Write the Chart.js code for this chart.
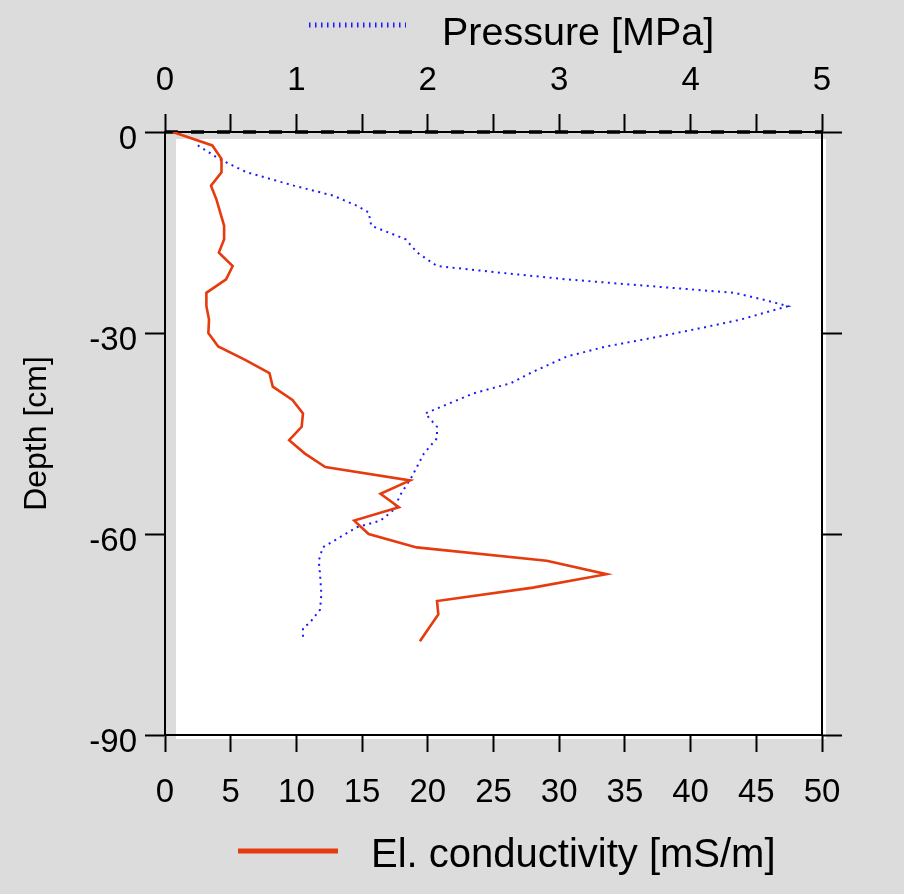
<!DOCTYPE html>
<html>
<head>
<meta charset="utf-8">
<script src="https://cdn.jsdelivr.net/npm/chart.js@4/dist/chart.umd.min.js"></script>
<style>
  html, body { margin: 0; padding: 0; background: #dcdcdc; }
  #wrap { width: 904px; height: 894px; position: relative; }
</style>
</head>
<body>
<div id="wrap"><canvas id="c" width="904" height="894"></canvas></div>
<script>
// ---- Data ----
const condDepths = [0, -2, -4, -6, -8, -10, -12, -14, -16, -18, -20, -22, -24, -26, -28, -30, -32, -34, -36, -38,
  -40, -42, -44, -46, -48, -50, -52, -54, -56, -58, -60, -62, -64, -66, -68, -70, -72, -74, -76];
const condValues = [0.6, 3.6, 4.3, 4.3, 3.5, 3.9, 4.2, 4.5, 4.5, 4.1, 5.15, 4.65, 3.15, 3.15, 3.35, 3.3, 4.05, 6.1, 7.95, 8.2,
  9.7, 10.5, 10.4, 9.45, 10.65, 12.2, 18.65, 16.4, 17.8, 14.4, 15.5, 19.15, 29.05, 33.6, 28.0, 20.7, 20.8, 20.1, 19.4];

const pressDepths = [-2, -4, -6, -8, -9.5, -11, -12, -14, -16, -18, -20, -21, -22, -23, -24, -25, -26, -28, -29.3, -30.8,
  -32, -33.5, -35.8, -37.5, -39, -42, -44, -45.7, -48, -51.4, -54.2, -56.4, -58, -59, -62, -64, -66, -69, -71.3, -73.3, -74, -76];
const pressValues = [0.25, 0.41, 0.62, 0.98, 1.28, 1.46, 1.55, 1.57, 1.83, 1.92, 2.07, 2.55, 3.06, 3.69, 4.33, 4.55, 4.74, 4.38, 4.07, 3.69,
  3.36, 3.06, 2.80, 2.63, 2.35, 1.98, 2.07, 2.07, 1.97, 1.88, 1.79, 1.74, 1.64, 1.46, 1.20, 1.17, 1.18, 1.19, 1.18, 1.10, 1.05, 1.05];

const depthTicks = [0, -30, -60, -90];
const condRange = [0, 50];
const pressRange = [0, 5];
const surfaceLine = [0, 50]; // depth 0 reference line across conductivity axis

const condLabel = 'El. conductivity [mS/m]';
const pressLabel = 'Pressure [MPa]';
const depthLabel = 'Depth [cm]';

// ---- Styles ----
const RED = '#e63b0e';
const BLUE = '#1a1aff';
const FONT = '"Liberation Sans", Arial, sans-serif';

const backdrop = {
  id: 'backdrop',
  beforeDraw(chart) {
    const { ctx, chartArea: a } = chart;
    ctx.save();
    ctx.fillStyle = '#ffffff';
    ctx.fillRect(a.left + 11, a.top + 7, a.width - 7, a.height - 3);
    ctx.restore();
  }
};

const legends = {
  id: 'legends',
  afterDraw(chart) {
    const ctx = chart.ctx;
    ctx.save();
    // top legend: pressure
    ctx.strokeStyle = BLUE;
    ctx.lineWidth = 5;
    ctx.setLineDash([1.5, 4.5]);
    ctx.beginPath();
    ctx.moveTo(309, 25);
    ctx.lineTo(406, 25);
    ctx.stroke();
    ctx.setLineDash([]);
    ctx.fillStyle = '#000';
    ctx.font = '39.5px ' + FONT;
    ctx.textBaseline = 'alphabetic';
    ctx.textAlign = 'left';
    ctx.fillText(pressLabel, 442, 45);
    // bottom legend: conductivity
    ctx.strokeStyle = RED;
    ctx.lineWidth = 5;
    ctx.beginPath();
    ctx.moveTo(238, 851);
    ctx.lineTo(338, 851);
    ctx.stroke();
    ctx.font = '40px ' + FONT;
    ctx.fillText(condLabel, 371, 867);
    ctx.restore();
  }
};

function axisCommon(tickLen) {
  return {
    grid: { drawOnChartArea: false, drawTicks: true, tickLength: tickLen, tickColor: '#000', tickWidth: 2 },
    border: { display: true, color: '#000', width: 2 },
  };
}

const tickFont = { family: FONT, size: 33 };

new Chart(document.getElementById('c'), {
  type: 'scatter',
  data: {
    datasets: [
      {
        label: condLabel,
        data: condDepths.map((d, i) => ({ x: condValues[i], y: d })),
        showLine: true,
        borderColor: RED,
        borderWidth: 2.6,
        pointRadius: 0,
        tension: 0,
        xAxisID: 'x',
        yAxisID: 'y'
      },
      {
        label: pressLabel,
        data: pressDepths.map((d, i) => ({ x: pressValues[i], y: d })),
        showLine: true,
        borderColor: BLUE,
        borderWidth: 2,
        borderDash: [2, 4.5],
        pointRadius: 0,
        tension: 0,
        xAxisID: 'x2',
        yAxisID: 'y'
      },
      {
        label: 'surface',
        data: surfaceLine.map(v => ({ x: v, y: 0 })),
        showLine: true,
        borderColor: '#000',
        borderWidth: 3.5,
        borderDash: [13, 13],
        pointRadius: 0,
        xAxisID: 'x',
        yAxisID: 'y',
        clip: false
      }
    ]
  },
  options: {
    responsive: false,
    animation: false,
    events: [],
    layout: { padding: 0 },
    plugins: { legend: { display: false }, tooltip: { enabled: false }, title: { display: false } },
    scales: {
      x: {
        type: 'linear', position: 'bottom', min: condRange[0], max: condRange[1],
        ...axisCommon(17),
        ticks: { stepSize: 5, autoSkip: false, maxRotation: 0, color: '#000', font: tickFont, padding: 21 },
        afterFit(s) { s.height = 159; }
      },
      x2: {
        type: 'linear', position: 'top', min: pressRange[0], max: pressRange[1],
        ...axisCommon(18),
        ticks: { stepSize: 0.5, autoSkip: false, maxRotation: 0, color: '#000', font: tickFont, padding: 13,
          callback: v => (Math.abs(v - Math.round(v)) < 1e-9 ? String(Math.round(v)) : '') },
        afterFit(s) { s.height = 132; }
      },
      y: {
        type: 'linear', position: 'left', min: -90, max: 0,
        ...axisCommon(20),
        afterBuildTicks(s) { s.ticks = depthTicks.map(v => ({ value: v })); },
        ticks: { autoSkip: false, color: '#000', font: tickFont, padding: 8, labelOffset: 8 },
        title: { display: true, text: depthLabel, color: '#000', font: { family: FONT, size: 32 }, padding: { top: 18, bottom: 0 } },
        afterFit(s) { s.width = 165; }
      },
      y2: {
        type: 'linear', position: 'right', min: -90, max: 0,
        ...axisCommon(20),
        afterBuildTicks(s) { s.ticks = depthTicks.map(v => ({ value: v })); },
        ticks: { autoSkip: false, callback: () => '' },
        afterFit(s) { s.width = 82; }
      }
    }
  },
  plugins: [backdrop, legends]
});
</script>
</body>
</html>
